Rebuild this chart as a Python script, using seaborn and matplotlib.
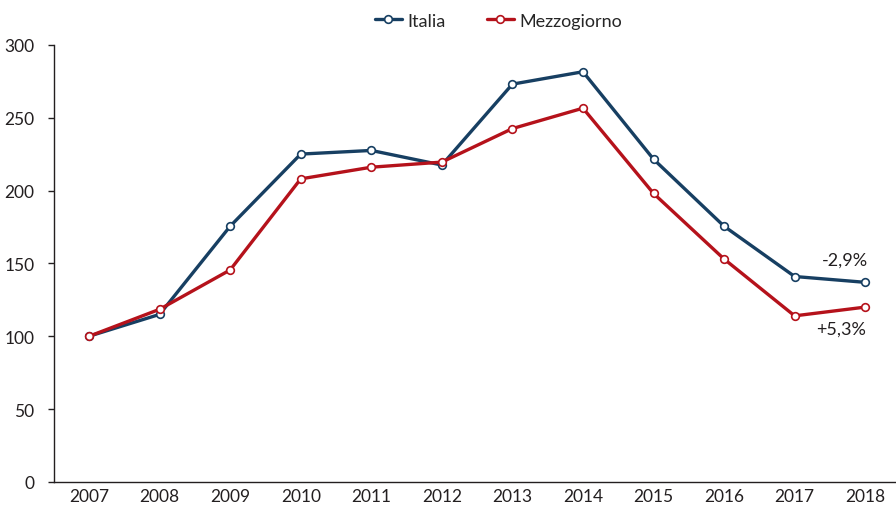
import pandas as pd
import numpy as np
import matplotlib
matplotlib.use("Agg")
import matplotlib.pyplot as plt
import seaborn as sns

# Dati (indice 2007 = 100)
anni = ['2007', '2008', '2009', '2010', '2011', '2012',
        '2013', '2014', '2015', '2016', '2017', '2018']
italia = [100, 115, 175.5, 225, 227.5, 217.5, 273, 281.5, 221.5, 175.5, 141, 137]
mezzogiorno = [100, 118.5, 145.5, 208, 216, 219.5, 242.5, 256.5, 198, 153, 114, 120]
serie = ['Italia', 'Mezzogiorno']
colori = ['#173f62', '#b5121b']
y_ticks = [0, 50, 100, 150, 200, 250, 300]

df = pd.DataFrame({
    'anno': anni * 2,
    'pos': list(range(len(anni))) * 2,
    'valore': italia + mezzogiorno,
    'serie': ['Italia'] * len(anni) + ['Mezzogiorno'] * len(anni),
})

sns.set_style("white")
plt.rcParams['font.family'] = ['Lato', 'DejaVu Sans']

fig = plt.figure(figsize=(8.96, 5.06), dpi=100)
ax = fig.add_axes([0.06, 0.0455, 0.945, 0.864])

for nome, col in zip(serie, colori):
    sns.lineplot(data=df[df['serie'] == nome], x='pos', y='valore', ax=ax,
                 color=col, linewidth=2.4, marker='o', markersize=5.5,
                 markerfacecolor='white', markeredgecolor=col,
                 markeredgewidth=1.2, label=nome)

ax.set_xlim(-0.5, len(anni) - 0.5)
ax.set_ylim(0, 300)
ax.set_yticks(y_ticks)
ax.set_xticks(range(len(anni)))
ax.set_xticklabels(anni)
ax.set_xticks(np.arange(-0.5, len(anni), 1), minor=True)
ax.tick_params(axis='x', which='major', length=0, labelsize=12.5, pad=4, colors='#231f20')
ax.tick_params(axis='x', which='minor', length=4, width=1, direction='out', color='#231f20')
ax.tick_params(axis='y', length=4, width=1, direction='out', labelsize=12.5,
               pad=10, left=True, colors='#231f20')
ax.set_xlabel('')
ax.set_ylabel('')

for s in ['top', 'right']:
    ax.spines[s].set_visible(False)
for s in ['left', 'bottom']:
    ax.spines[s].set_color('#231f20')
    ax.spines[s].set_linewidth(1)

# Variazioni 2018
ax.text(len(anni) - 1.62, italia[-1] + 12, '-2,9%', fontsize=13, color='#231f20')
ax.text(len(anni) - 1.69, mezzogiorno[-1] - 18, '+5,3%', fontsize=13, color='#231f20')

leg = ax.legend(loc='lower center', bbox_to_anchor=(0.525, 1.0), ncol=2,
                frameon=False, fontsize=13, handlelength=1.5, columnspacing=2.3,
                handletextpad=0.3, borderaxespad=0.5)

fig.savefig('out.png', dpi=100)
